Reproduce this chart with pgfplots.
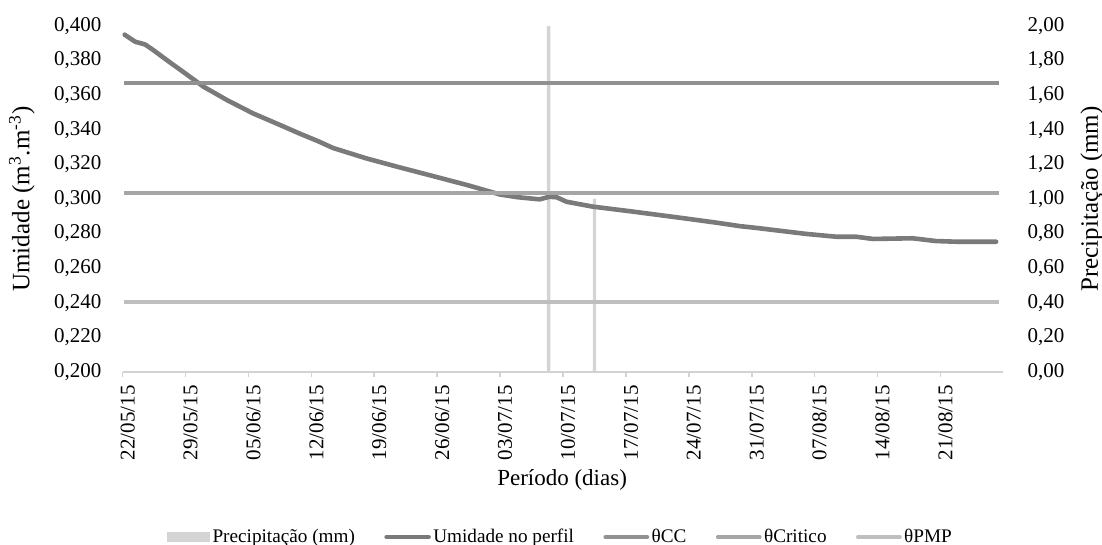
\documentclass[border=0pt]{standalone}
\usepackage{fontspec}
\setmainfont{Liberation Serif}
\usepackage{pgfplots}
\pgfplotsset{compat=1.18}
\definecolor{cUmid}{RGB}{122,122,122}
\definecolor{cCC}{RGB}{145,145,145}
\definecolor{cCrit}{RGB}{166,166,166}
\definecolor{cPMP}{RGB}{190,190,190}
\definecolor{cPrec}{RGB}{212,212,212}
\definecolor{cAxis}{RGB}{210,210,210}
\begin{document}
\begin{tikzpicture}
\useasboundingbox (-61.35pt,-86.5pt) rectangle (489.65pt,186pt);
\pgfplotsset{
  base/.style={
    scale only axis, width=440.3pt, height=173pt,
    xmin=0, xmax=98, at={(0pt,0pt)}, anchor=south west,
    /pgf/number format/assume math mode=true,
    ticklabel style={font=\fontsize{10.5}{12}\selectfont},
    tick align=outside, major tick length=2.5pt,
  }
}
% right axis: precipitation bars
\begin{axis}[base,
  hide x axis,
  axis y line*=right,
  y axis line style={draw=none},
  ytick style={draw=none},
  ymin=0, ymax=2,
  ytick={0,0.2,0.4,0.6,0.8,1.0,1.2,1.4,1.6,1.8,2.0},
  yticklabel style={anchor=west, inner sep=0pt, xshift=9.5pt,
    /pgf/number format/.cd, fixed, fixed zerofill, precision=2, use comma},
  ylabel={Precipitação (mm)},
  every axis y label/.style={at={(axis description cs:1.1007,0.5)}, rotate=90, anchor=center, font=\fontsize{12.5}{14}\selectfont},
]
\addplot[ybar, bar width=1.7pt, bar shift=0pt, fill=cPrec, draw=none] coordinates {(47.4,2.0) (52.5,1.0)};
\end{axis}
% left axis: moisture lines
\begin{axis}[base,
  axis y line*=left, axis x line*=bottom,
  y axis line style={draw=none},
  ytick style={draw=none},
  x axis line style={draw=cAxis, line width=0.8pt},
  xtick style={draw=cAxis, line width=0.8pt},
  ymin=0.2, ymax=0.4,
  ytick={0.2,0.22,0.24,0.26,0.28,0.3,0.32,0.34,0.36,0.38,0.4},
  yticklabel style={anchor=east, inner sep=0pt, xshift=-8pt,
    /pgf/number format/.cd, fixed, fixed zerofill, precision=3, use comma},
  xtick={0,7,14,21,28,35,42,49,56,63,70,77,84,91},
  xticklabels={22/05/15,29/05/15,05/06/15,12/06/15,19/06/15,26/06/15,03/07/15,10/07/15,17/07/15,24/07/15,31/07/15,07/08/15,14/08/15,21/08/15},
  xticklabel style={xshift=2.5pt, yshift=-4pt, rotate=90, anchor=east, inner sep=0pt},
  xlabel={Período (dias)},
  every axis x label/.style={at={(axis description cs:0.499,-0.312)}, anchor=center, font=\fontsize{11.5}{13}\selectfont},
  ylabel={Umidade (m\textsuperscript{3}.m\textsuperscript{-3})},
  every axis y label/.style={at={(axis description cs:-0.1144,0.5)}, rotate=90, anchor=center, font=\fontsize{12.5}{14}\selectfont},
  legend columns=5,
  legend style={at={(axis description cs:0.4975,-0.477)}, anchor=center, draw=none, fill=none,
    font=\fontsize{9.6}{11}\selectfont, inner sep=0pt,
    nodes={inner sep=1.2pt},
    /tikz/every even column/.append style={column sep=13.5pt}},
  legend image code/.code={\draw[#1, line cap=round] (0pt,0pt) -- (21pt,0pt);},
]
\addlegendimage{/pgfplots/legend image code/.code={\fill[cPrec] (0pt,-2.3pt) rectangle (21pt,2.3pt);}}
\addlegendentry{Precipitação (mm)}
\addplot[cUmid, line width=2.3pt, line join=round, line cap=round] coordinates {
(0.2,0.3950) (1.4,0.3909) (2.5,0.3893) (3.4,0.3861) (5.3,0.3788) (6.7,0.3736)
(9.0,0.3649) (11.6,0.3572) (14.5,0.3495) (17.5,0.3428) (19.7,0.3378) (21.8,0.3333)
(23.4,0.3295) (27.1,0.3235) (30.8,0.3183) (34.5,0.3133) (38.3,0.3081) (42.0,0.3026)
(44.0,0.3010) (46.4,0.2998) (47.5,0.3013) (48.3,0.3010) (49.4,0.2984) (52.3,0.2956)
(56.8,0.2927) (62.4,0.2889) (66.1,0.2863) (68.7,0.2843) (70.5,0.2833) (72.4,0.2821)
(76.1,0.2798) (79.4,0.2782) (81.6,0.2782) (83.5,0.2769) (87.9,0.2773) (90.5,0.2757)
(92.8,0.2753) (97.2,0.2753)};
\addlegendentry{Umidade no perfil}
\addplot[cCC, line width=1.9pt] coordinates {(0.2,0.3670) (97.5,0.3670)};
\addlegendentry{θCC}
\addplot[cCrit, line width=1.9pt] coordinates {(0.2,0.3034) (97.5,0.3034)};
\addlegendentry{θCritico}
\addplot[cPMP, line width=1.9pt] coordinates {(0.2,0.2406) (97.5,0.2406)};
\addlegendentry{θPMP}
\end{axis}
\end{tikzpicture}
\end{document}
